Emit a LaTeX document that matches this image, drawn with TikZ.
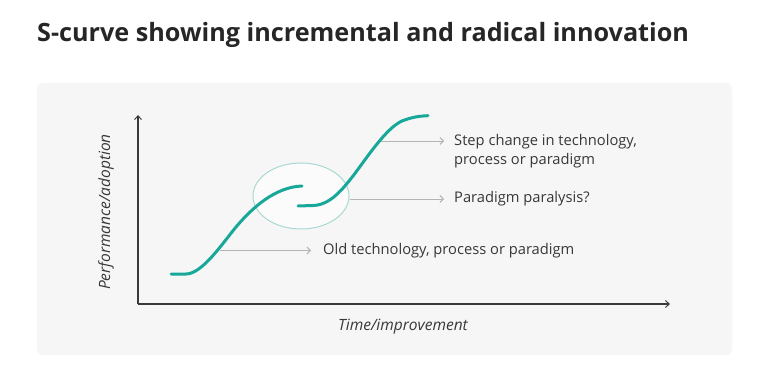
\documentclass[tikz,border=0pt]{standalone}
\usepackage{fontspec}
\setmainfont{Open Sans}
\usetikzlibrary{arrows.meta,shapes.geometric}
\definecolor{teal1}{HTML}{17A89A}
\definecolor{panelbg}{HTML}{F6F6F6}
\definecolor{axisc}{HTML}{3A3A3A}
\definecolor{connc}{HTML}{B4B4B4}
\definecolor{txtc}{HTML}{383838}
\definecolor{ringc}{HTML}{A8D9D2}
\tikzset{
  curvestyle/.style={line width=3pt, draw=teal1, line cap=round},
  axisstyle/.style={draw=axisc, line width=1.1pt, -{Straight Barb[length=4pt,width=7pt,line width=0.9pt]}},
  connstyle/.style={draw=connc, line width=0.9pt, -{Straight Barb[length=3.5pt,width=7pt,line width=0.9pt]}},
  labelstyle/.style={font=\fontsize{14.7}{19.5}\selectfont, text=txtc, inner sep=0pt, anchor=west, align=left},
  axlabel/.style={font=\fontsize{15.5}{17}\selectfont\itshape, text=txtc, inner sep=0pt}
}
\begin{document}
\begin{tikzpicture}[x=1pt,y=-1pt]
\useasboundingbox (0,0) rectangle (765,371);
\fill[white] (0,0) rectangle (765,371);
% title
\node[anchor=west, inner sep=0pt, font=\fontsize{25.2}{30}\selectfont\bfseries, text=black!85] (title) at (37,35) {S-curve showing incremental and radical innovation};
% panel
\fill[panelbg, rounded corners=6pt] (37,83) rectangle (732,355);
% ellipse
\node[ellipse, draw=ringc, line width=1pt, fill=white!60!panelbg, minimum width=96pt, minimum height=66pt, inner sep=0pt] (ring) at (301,196) {};
% axes
\coordinate (origin) at (138,304);
\coordinate (ytop) at (138,115);
\coordinate (xend) at (670,304);
\draw[axisstyle] (origin) -- (ytop);
\draw[axisstyle] (origin) -- (xend);
\node[axlabel, rotate=90] (ylab) at (106,212) {Performance/adoption};
\node[axlabel] (xlab) at (403,327) {Time/improvement};
% curves
\draw[curvestyle] (171,274) -- (186,274) .. controls (202,274) and (222,244) .. (236,227)
  .. controls (252,208) and (275,187) .. (302,186);
\draw[curvestyle] (298,206) -- (313,205.5) .. controls (330,205) and (342,190) .. (353,176)
  .. controls (366,159) and (386,128) .. (402,121) .. controls (412,117) and (420,116) .. (428,115.7);
% labels
\node[labelstyle] (l1) at (454,151) {Step change in technology,\\process or paradigm};
\node[labelstyle] (l2) at (454,199) {Paradigm paralysis?};
\node[labelstyle] (l3) at (323,250.5) {Old technology, process or paradigm};
% connectors
\coordinate (j1) at (220,250.5);
\coordinate (j2) at (349.5,199);
\coordinate (j3) at (381,141);
\draw[connstyle] (j3) -- ([xshift=-10pt]l1.west |- j3);
\draw[connstyle] (j2) -- ([xshift=-10pt]l2.west);
\draw[connstyle] (j1) -- ([xshift=-12pt]l3.west);
\end{tikzpicture}
\end{document}
